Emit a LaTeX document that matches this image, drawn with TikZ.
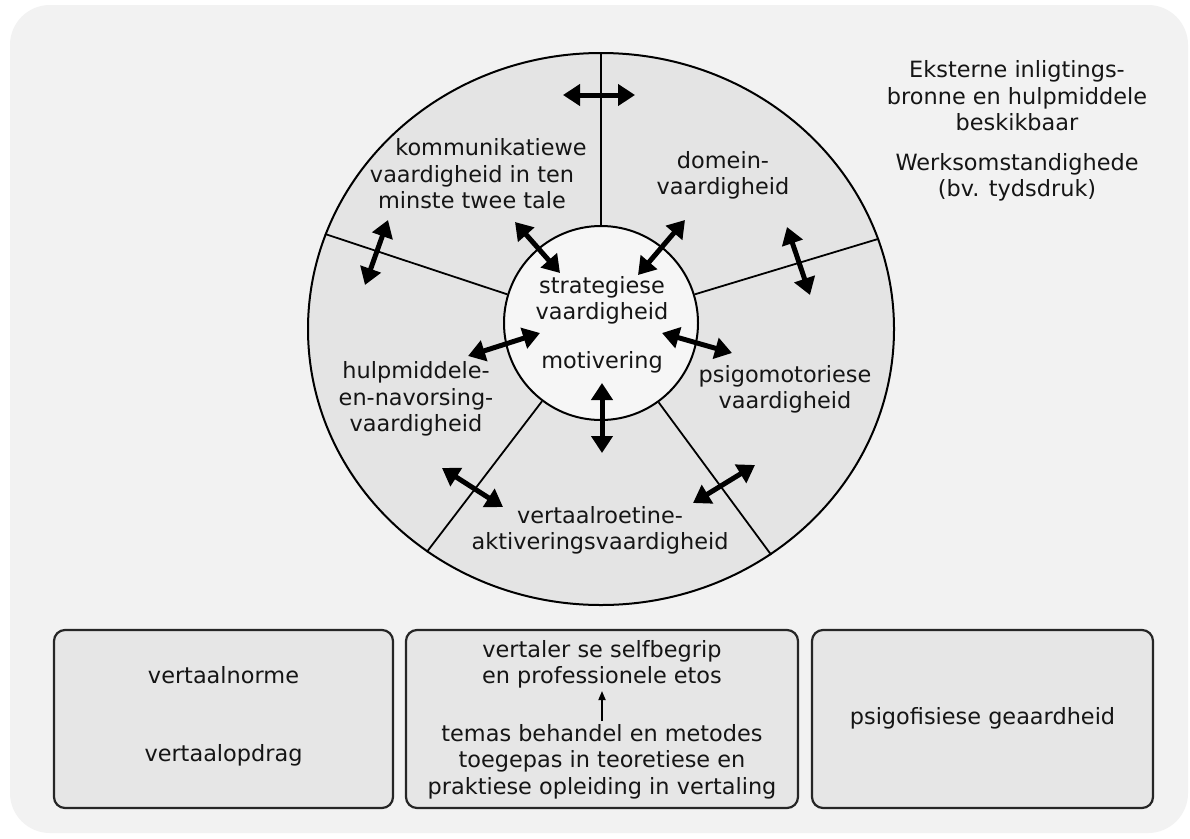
\documentclass[tikz,border=0pt]{standalone}
\usepackage{fontspec}
\setmainfont{DejaVu Sans}
\usetikzlibrary{arrows.meta,shapes.geometric}
\definecolor{bgc}{HTML}{F2F2F2}
\definecolor{ringc}{HTML}{E4E4E4}
\definecolor{innerc}{HTML}{F6F6F6}
\definecolor{boxc}{HTML}{E6E6E6}
\definecolor{txt}{HTML}{151515}
\begin{document}
\begin{tikzpicture}[x=1pt,y=-1pt,
  lbl/.style={font=\fontsize{22.4}{26.5}\selectfont, text=txt, align=center, inner sep=0pt},
  dbl/.style={line width=5pt, black, {Triangle[length=17pt,width=21pt]}-{Triangle[length=17pt,width=21pt]}},
  divl/.style={line width=1.8pt, black},
  boxs/.style={draw=black!85, line width=2.2pt, fill=boxc, rounded corners=11pt, inner sep=0pt},
  thinarr/.style={line width=1.7pt, black, -{Triangle[length=9pt,width=7pt]}}
]
\useasboundingbox (0,0) rectangle (1190,838);
\fill[white] (0,0) rectangle (1190,838);
\fill[bgc, rounded corners=40pt] (10,5) rectangle (1188,833);

% outer ring and inner circle
\node[ellipse, draw, line width=2pt, fill=ringc, minimum width=586pt, minimum height=552pt, inner sep=0pt] (outer) at (601,329) {};
\node[circle, draw, line width=2pt, fill=innerc, minimum size=194pt, inner sep=0pt] (inner) at (601,323) {};

% dividers
\draw[divl] (inner.90) -- (outer.90);
\draw[divl] (inner.163) -- (outer.161.7);
\draw[divl] (inner.17) -- (outer.18.6);
\draw[divl] (inner.233.6) -- (outer.232.5);
\draw[divl] (inner.306.4) -- (outer.307.8);

% arrow end points
\coordinate (a1s) at (563,95);  \coordinate (a1e) at (635,95);
\coordinate (a2s) at (388,220); \coordinate (a2e) at (365,285);
\coordinate (a3s) at (515,222); \coordinate (a3e) at (560,273);
\coordinate (a4s) at (685,220); \coordinate (a4e) at (638,275);
\coordinate (a5s) at (787,227); \coordinate (a5e) at (810,295);
\coordinate (a6s) at (540,333); \coordinate (a6e) at (468,356);
\coordinate (a7s) at (662,333); \coordinate (a7e) at (732,353);
\coordinate (a8s) at (602,383); \coordinate (a8e) at (602,453);
\coordinate (a9s) at (442,468); \coordinate (a9e) at (503,507);
\coordinate (a10s) at (755,465); \coordinate (a10e) at (693,503);
\foreach \i in {1,...,10} { \draw[dbl] (a\i s) -- (a\i e); }

% labels in the circle
\node[lbl] (komm) at (472,174) {\hspace*{38pt}kommunikatiewe\\vaardigheid in ten\\minste twee tale};
\node[lbl] (dom) at (723,175.5) {domein-\\vaardigheid};
\node[lbl] (strat) at (602,300.5) {strategiese\\vaardigheid};
\node[lbl] (mot) at (602,362) {motivering};
\node[lbl] (hulp) at (416,399) {hulpmiddele-\\en-navorsing-\\vaardigheid};
\node[lbl] (psigo) at (785,389.5) {psigomotoriese\\vaardigheid};
\node[lbl] (roet) at (600,530.5) {vertaalroetine-\\aktiveringsvaardigheid};

% right texts
\node[lbl] (ext) at (1017,96) {Eksterne inligtings-\\bronne en hulpmiddele\\beskikbaar};
\node[lbl] (werk) at (1017,177.5) {Werksomstandighede\\(bv. tydsdruk)};

% bottom boxes
\node[boxs, minimum width=339pt, minimum height=178pt] (b1) at (223.5,719) {};
\node[boxs, minimum width=392pt, minimum height=178pt] (b2) at (602,719) {};
\node[boxs, minimum width=341pt, minimum height=178pt] (b3) at (982.5,719) {};

\node[lbl] (norm) at (223.5,675) {vertaalnorme};
\node[lbl] (opd) at (223.5,755) {vertaalopdrag};
\node[lbl] (self) at (602,664.5) {vertaler se selfbegrip\\en professionele etos};
\node[lbl] (tem) at (602,761.5) {temas behandel en metodes\\toegepas in teoretiese en\\praktiese opleiding in vertaling};
\node[lbl] (fis) at (982.5,718) {psigofisiese geaardheid};
\coordinate (tb) at (602,721);
\coordinate (tt) at (602,691);
\draw[thinarr] (tb) -- (tt);
\end{tikzpicture}
\end{document}
